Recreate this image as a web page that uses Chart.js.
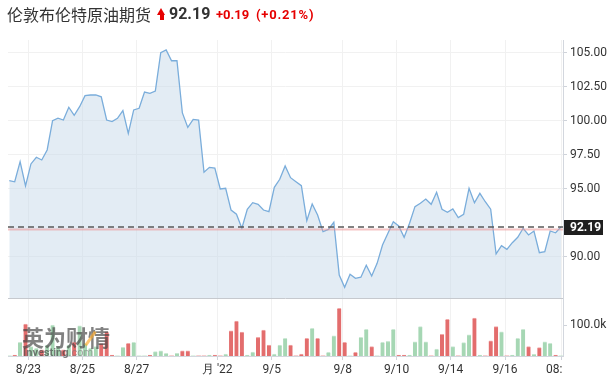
<!DOCTYPE html>
<html><head><meta charset="utf-8">
<script src="https://cdn.jsdelivr.net/npm/chart.js@4.4.1/dist/chart.umd.min.js"></script>
<style>
html,body{margin:0;padding:0;background:#fff;}
#wrap{position:relative;width:612px;height:383px;overflow:hidden;}
#c{position:absolute;left:0;top:0;}
.h{position:absolute;white-space:nowrap;}
#title{left:7px;top:6px;font:16px/16px "Noto Sans CJK SC",sans-serif;color:#333;}
#arrow{left:157px;top:8px;width:9px;height:13px;}
#arrow .t{position:absolute;left:0;top:0;width:0;height:0;border-left:4.5px solid transparent;border-right:4.5px solid transparent;border-bottom:7px solid #e60000;}
#arrow .s{position:absolute;left:2.5px;top:6px;width:4px;height:6px;background:#e60000;}
#price{left:169px;top:6px;font:bold 16px/16px Roboto,sans-serif;color:#333;}
#chg{left:216px;top:8px;font:bold 13px/13px Roboto,sans-serif;color:#e60000;}
#pct{left:256px;top:8px;font:bold 13px/13px Roboto,sans-serif;color:#e60000;letter-spacing:0.8px;}
#wm1{left:22px;top:325px;font:bold 22px/22px "Noto Sans CJK SC",sans-serif;color:rgba(70,70,70,0.68);}
#wm2{left:23px;top:347px;font:bold 11px/11px Roboto,sans-serif;color:rgba(70,70,70,0.68);}
#wm2 span{color:rgba(120,120,120,0.6);font-weight:normal;}
#wmo{left:89px;top:330px;width:3px;height:17px;background:rgba(255,170,40,0.65);transform:rotate(35deg);}
</style></head>
<body>
<div id="wrap">
<canvas id="c" width="612" height="383"></canvas>
<div class="h" id="title">伦敦布伦特原油期货</div>
<div class="h" id="arrow"><div class="t"></div><div class="s"></div></div>
<div class="h" id="price">92.19</div>
<div class="h" id="chg">+0.19</div>
<div class="h" id="pct">(+0.21%)</div>
<div class="h" id="wm1">英为财情</div>
<div class="h" id="wmo"></div>
<div class="h" id="wm2">Investing<span>.com</span></div>
</div>
<script>
// ---- data ----
const priceVals = [
 95.59,95.51,96.99,95.20,96.82,97.31,97.11,97.85,100.00,100.18,
 100.05,100.99,100.40,101.03,101.84,101.89,101.89,101.76,100.05,99.93,
 100.18,100.74,99.07,100.79,100.91,102.11,102.01,102.18,105.00,105.20,
 104.41,104.41,100.57,99.51,100.10,100.05,96.21,96.57,96.52,94.98,
 95.03,93.43,93.12,92.09,93.49,93.97,93.85,93.43,93.31,95.10,
 95.69,96.67,95.81,95.51,95.22,92.65,93.88,93.07,91.84,92.01,
 92.53,88.65,87.75,88.71,88.41,88.49,89.37,88.58,89.51,90.86,
 91.72,92.57,92.26,91.43,92.46,93.68,93.93,94.24,93.85,94.74,
 93.49,93.26,93.51,92.87,93.12,95.03,93.97,94.66,94.04,93.49,
 90.20,90.81,90.54,91.03,91.43,92.09,91.60,91.89,90.29,90.37,
 91.89,91.76,92.19
];
const volumeK = [
 0,3,44,103,30,25,20,35,100,30,
 20,35,45,97,40,25,30,40,78,3,
 0,28,41,44,0,0,3,14,17,9,
 0,9,17,17,0,0,0,3,3,0,
 6,81,113,77,3,13,60,84,35,6,
 35,57,35,0,6,57,89,57,0,12,
 65,154,44,0,12,60,86,30,0,44,
 47,86,3,3,3,46,95,46,0,22,
 70,118,30,0,43,68,122,3,0,49,
 95,78,0,3,57,86,30,5,27,46,
 41,3,0
];
const xTickPos = [3.51, 13.50, 23.55, 38.45, 48.51, 61.64, 71.62, 81.61, 91.65, 102.12];
const xTickLabels = ['8/23','8/25','8/27',"月 '22",'9/5','9/8','9/10','9/14','9/16','08:     '];
const priceTicks = [90, 95, 97.5, 100, 102.5, 105];
const volumeTicks = [100000];
const lastPrice = 92.19;
const prevClose = 92.00;

// ---- scale ranges ----
const xMin = -0.24, xMax = 102.37;
const pMin = 86.963, pMax = 105.934;
const vMax = 187100;

const upColor = '#a6d7b4', downColor = '#e36d6d';
const upCap = '#cbe8d4', downCap = '#f1a8a8';
const isUp = priceVals.map((v, i) => i === 0 || v >= priceVals[i - 1]);

const lastLabel = {
  id: 'lastLabel',
  afterDraw(chart) {
    const s = chart.scales.y, ctx = chart.ctx;
    const y = Math.round(s.getPixelForValue(lastPrice));
    const x0 = chart.chartArea.right + 1;
    ctx.save();
    ctx.fillStyle = '#1f1f1f';
    ctx.fillRect(x0, y - 7, 39, 15);
    ctx.fillStyle = '#fff';
    ctx.font = 'bold 12px Roboto';
    ctx.textBaseline = 'middle';
    ctx.textAlign = 'left';
    ctx.fillText(lastPrice.toFixed(2), x0 + 6, y + 1);
    ctx.restore();
  }
};

Chart.defaults.font.family = 'Roboto';
Chart.defaults.font.size = 12;
Chart.defaults.color = '#333';

new Chart(document.getElementById('c'), {
  type: 'line',
  data: {
    datasets: [
      {
        type: 'line', label: 'last',
        data: [{x: xMin, y: lastPrice}, {x: xMax, y: lastPrice}],
        yAxisID: 'y', borderColor: '#5a5a5a', borderWidth: 1.5, borderDash: [6, 4],
        pointRadius: 0, fill: false, order: 1
      },
      {
        type: 'line', label: 'prev',
        data: [{x: xMin, y: prevClose}, {x: xMax, y: prevClose}],
        yAxisID: 'y', borderColor: 'rgba(236,150,150,0.55)', borderWidth: 2,
        pointRadius: 0, fill: false, order: 2
      },
      {
        type: 'line', label: 'price',
        data: priceVals.map((v, i) => ({x: i, y: v})),
        yAxisID: 'y', borderColor: '#7aaddb', borderWidth: 1.3,
        backgroundColor: 'rgba(200,218,234,0.5)', fill: 'start',
        pointRadius: 0, tension: 0, order: 3
      },
      {
        type: 'bar', label: 'volume',
        data: volumeK.map((v, i) => ({x: i, y: v * 1000})),
        yAxisID: 'yv',
        backgroundColor: isUp.map(u => u ? upColor : downColor),
        borderColor: isUp.map(u => u ? upCap : downCap),
        borderWidth: {top: 1, left: 0, right: 0, bottom: 0},
        borderSkipped: 'start',
        barThickness: 4, grouped: false, order: 5
      }
    ]
  },
  options: {
    responsive: false, animation: false, devicePixelRatio: 1,
    layout: {padding: {top: 40, left: 8, right: 0, bottom: 0}},
    plugins: {legend: {display: false}, tooltip: {enabled: false}},
    scales: {
      x: {
        type: 'linear', min: xMin, max: xMax, offset: false,
        afterBuildTicks: s => { s.ticks = xTickPos.map(v => ({value: v})); },
        afterFit: s => { s.height = 27; },
        ticks: {autoSkip: false, maxRotation: 0, minRotation: 0, padding: 3,
          color: '#333', font: {size: 12},
          callback: (v, i) => xTickLabels[i]},
        grid: {color: '#f1f1f1', offset: false, drawTicks: true, tickLength: 4, tickColor: '#cfd3da'},
        border: {color: '#d3d7de', width: 1}
      },
      y: {
        type: 'linear', position: 'right', stack: 'panel', stackWeight: 258, weight: 0,
        min: pMin, max: pMax, offset: false,
        afterBuildTicks: s => { s.ticks = [pMin].concat(priceTicks).map(v => ({value: v})); },
        afterFit: s => { s.width = 49; },
        ticks: {padding: 3, color: '#333', font: {size: 12},
          callback: (v, i) => i === 0 ? '' : v.toFixed(2)},
        grid: {
          color: c => c.index === 0 ? '#c6c9ce' : '#f1f1f1',
          tickLength: 4,
          tickColor: c => c.index === 0 ? 'rgba(0,0,0,0)' : '#cfd3da'
        },
        border: {color: '#d3d7de', width: 1}
      },
      yv: {
        type: 'linear', position: 'right', stack: 'panel', stackWeight: 58, weight: 1,
        min: 0, max: vMax, offset: false,
        afterBuildTicks: s => { s.ticks = volumeTicks.map(v => ({value: v})); },
        afterFit: s => { s.width = 49; },
        ticks: {padding: 3, color: '#333', font: {size: 12},
          callback: v => (v / 1000).toFixed(1) + 'k'},
        grid: {drawOnChartArea: false, tickLength: 4, tickColor: '#cfd3da'},
        border: {color: '#d3d7de', width: 1}
      }
    }
  },
  plugins: [lastLabel]
});
</script>
</body></html>
